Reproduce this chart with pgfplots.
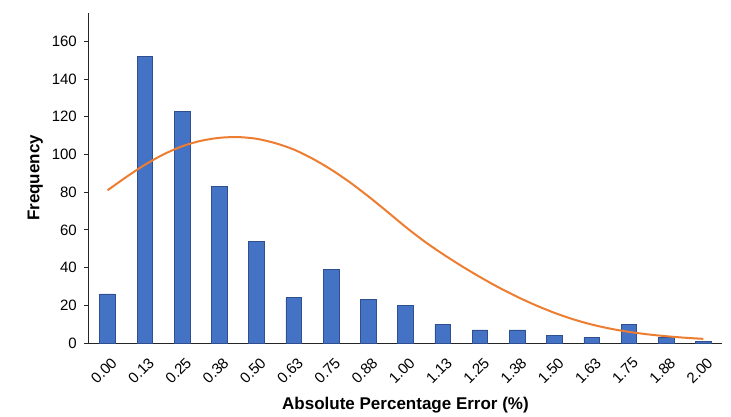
\documentclass[border=0pt]{standalone}
\usepackage{pgfplots}
\pgfplotsset{compat=1.18}
\usepackage{fontspec}
\setmainfont{Liberation Sans}
\definecolor{barblue}{HTML}{4472C4}
\definecolor{baredge}{HTML}{2F4F8F}
\definecolor{curveorange}{HTML}{ED7D31}
\begin{document}
\begin{tikzpicture}
\begin{axis}[
  scale only axis,
  width=633pt, height=330pt,
  xmin=-0.5, xmax=16.5,
  ymin=0, ymax=175,
  axis lines=left,
  axis line style={-, line width=1pt, black!85},
  xtick={0,...,16},
  xticklabels={0.00,0.13,0.25,0.38,0.50,0.63,0.75,0.88,1.00,1.13,1.25,1.38,1.50,1.63,1.75,1.88,2.00},
  xtick style={draw=none},
  ytick={0,20,...,160},
  ytick style={black!85, line width=0.8pt},
  tick align=outside,
  major tick length=5pt,
  /pgf/number format/assume math mode=true,
  x tick label style={rotate=45, anchor=north east, font=\fontsize{15}{17}\selectfont, inner sep=1pt, xshift=-3pt, yshift=-7pt},
  y tick label style={font=\fontsize{15}{17}\selectfont, inner sep=2pt, xshift=-5pt},
  xlabel={\textbf{Absolute Percentage Error (\%)}},
  ylabel={\textbf{Frequency}},
  label style={font=\fontsize{17}{19}\selectfont},
  xlabel style={at={(axis description cs:0.5,-0.188)}, anchor=center},
  ylabel style={at={(axis description cs:-0.085,0.5)}, anchor=center},
  clip=false,
]
\addplot[ybar, bar width=0.42, fill=barblue, draw=baredge, line width=0.6pt]
  coordinates {(0,26) (1,152) (2,123) (3,83) (4,54) (5,24) (6,39) (7,23) (8,20) (9,10) (10,7) (11,7) (12,4) (13,3) (14,10) (15,3) (16,1)};
\addplot[smooth, curveorange, line width=2pt, mark=none]
  coordinates {(0,81) (0.5,88) (1,94.5) (1.5,100) (2,104.3) (2.5,107.2) (3,108.8) (3.5,109.2) (4,108.3) (4.5,106) (5,102.6) (5.5,97.8) (6,92) (6.5,85.3) (7,77.8) (7.5,69.8) (8,61.6) (8.5,54) (9,47.2) (9.5,40.9) (10,35) (10.5,29.5) (11,24.5) (11.5,20) (12,16) (12.5,12.6) (13,9.8) (13.5,7.6) (14,5.9) (14.5,4.6) (15,3.6) (15.5,2.8) (16,2.2)};
\end{axis}
\pgfresetboundingbox
\path (-89pt,-73pt) rectangle (642pt,343pt);
\end{tikzpicture}
\end{document}
